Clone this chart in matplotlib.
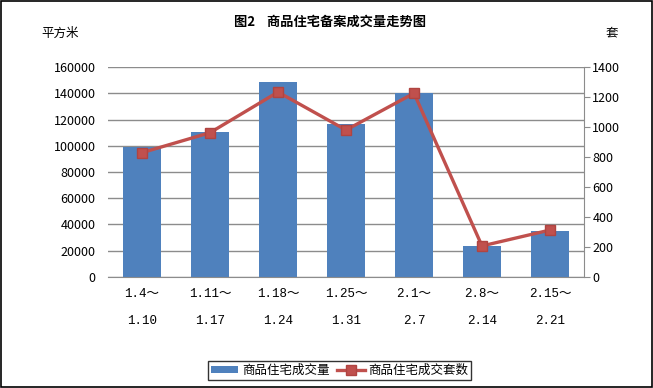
import numpy as np
import matplotlib.pyplot as plt
from matplotlib.patches import Rectangle

plt.rcParams['font.family'] = ['Noto Sans CJK SC', 'DejaVu Sans']

weeks_start = ['1.4～', '1.11～', '1.18～', '1.25～', '2.1～', '2.8～', '2.15～']
weeks_end = ['1.10', '1.17', '1.24', '1.31', '2.7', '2.14', '2.21']
area = [99000, 110700, 148600, 116600, 140000, 23600, 35000]
units = [829, 962, 1233, 980, 1225, 207, 313]

bar_color = '#4F81BD'
line_color = '#C0504D'
grid_color = '#8C8C8C'

fig = plt.figure(figsize=(6.53, 3.88), dpi=100)
ax = fig.add_axes([0.1654, 0.2861, 0.7289, 0.5412])
x = np.arange(len(area))

ax.bar(x, area, width=0.56, color=bar_color, zorder=2, label='商品住宅成交量')
ax.set_xlim(-0.5, len(area) - 0.5)
ax.set_ylim(0, 160000)
ax.set_yticks(np.arange(0, 160001, 20000))
ax.yaxis.grid(True, color=grid_color, linewidth=1)
ax.set_axisbelow(True)
for s in ['left', 'top', 'right']:
    ax.spines[s].set_visible(False)
ax.spines['bottom'].set_color(grid_color)
ax.tick_params(axis='y', length=0, labelsize=9, pad=9)
ax.tick_params(axis='x', length=0, pad=8)
ax.set_xticks(x)
ax.set_xticklabels([f'{a}\n{b}' for a, b in zip(weeks_start, weeks_end)],
                   family=['Liberation Mono', 'Noto Sans CJK SC'], fontsize=9,
                   linespacing=2.6)

ax2 = ax.twinx()
ax2.plot(x, units, color=line_color, linewidth=2.4, marker='s', markersize=7,
         markerfacecolor=line_color, markeredgecolor='#B04441', zorder=3,
         label='商品住宅成交套数')
ax2.set_ylim(0, 1400)
ax2.set_yticks(np.arange(0, 1401, 200))
for s in ['left', 'top', 'bottom']:
    ax2.spines[s].set_visible(False)
ax2.spines['right'].set_color(grid_color)
ax2.tick_params(axis='y', direction='out', length=4, color=grid_color, labelsize=9, pad=2)

fig.text(0.505, 0.945, '图2    商品住宅备案成交量走势图', ha='center', va='center',
         fontsize=9.5, fontweight='bold')
fig.text(0.092, 0.915, '平方米', ha='center', va='center', fontsize=9)
fig.text(0.937, 0.915, '套', ha='center', va='center', fontsize=9)

h1, l1 = ax.get_legend_handles_labels()
h2, l2 = ax2.get_legend_handles_labels()
leg = fig.legend(h1 + h2, l1 + l2, loc='center', bbox_to_anchor=(0.52, 0.046),
                 ncol=2, fontsize=9, frameon=True, fancybox=False,
                 handlelength=2.2, handleheight=0.5, columnspacing=0.6,
                 borderpad=0.25, handletextpad=0.3)
leg.get_frame().set_edgecolor('black')
leg.get_frame().set_linewidth(1)

fig.patches.append(Rectangle((0.001, 0.002), 0.997, 0.995, transform=fig.transFigure,
                             fill=False, edgecolor='black', linewidth=1.2))

fig.savefig('out.png', dpi=100)
